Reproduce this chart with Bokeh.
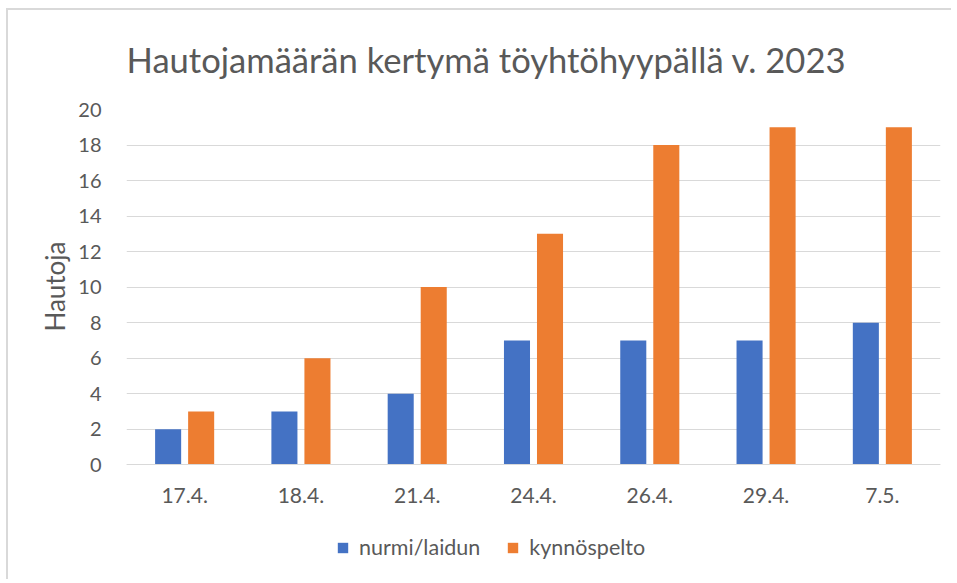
from bokeh.plotting import figure
from bokeh.models import FactorRange, Range1d, Legend, LegendItem, ColumnDataSource, Title
from bokeh.transform import dodge
from bokeh.embed import file_html
from bokeh.resources import INLINE

dates = ["17.4.", "18.4.", "21.4.", "24.4.", "26.4.", "29.4.", "7.5."]
nurmi = [2, 3, 4, 7, 7, 7, 8]
kynnospelto = [3, 6, 10, 13, 18, 19, 19]
y_ticks = [0, 2, 4, 6, 8, 10, 12, 14, 16, 18, 20]
series_names = ["nurmi/laidun", "kynnöspelto"]
title_text = "Hautojamäärän kertymä töyhtöhyypällä v. 2023"
y_label = "Hautoja"

FONT = "Lato"
TXT = "#595959"
BLUE = "#4472c4"
ORANGE = "#ed7d31"
GRID = "#d9d9d9"

src = ColumnDataSource(dict(d=dates, n=nurmi, k=kynnospelto))

# frame extends to the bottom of the figure so the legend can sit inside it;
# the category axis is pinned at y = 0
p = figure(x_range=FactorRange(*dates), y_range=Range1d(-6.573, 20),
           width=945, height=571, output_backend="svg", toolbar_location=None,
           min_border_left=118, min_border_right=13, min_border_top=98,
           min_border_bottom=0)
p.styles = {"margin-left": "6px", "margin-top": "8px",
            "border-top": "2px solid #d9d9d9", "border-left": "2px solid #d9d9d9"}

r1 = p.vbar(x=dodge("d", -0.142, range=p.x_range), top="n", width=0.224,
            source=src, fill_color=BLUE, line_color=None)
r2 = p.vbar(x=dodge("d", 0.142, range=p.x_range), top="k", width=0.224,
            source=src, fill_color=ORANGE, line_color=None)

p.title.text = title_text
p.title.text_font = FONT
p.title.text_font_size = "34.6px"
p.title.text_font_style = "normal"
p.title.text_color = TXT
p.title.align = "left"
p.title.vertical_align = "top"
p.title.offset = 0
p.title.standoff = 56

p.outline_line_color = None
p.xgrid.grid_line_color = None
p.ygrid.grid_line_color = GRID
p.ygrid.grid_line_width = 1
p.ygrid.ticker = y_ticks

p.yaxis.ticker = y_ticks
p.yaxis.axis_line_color = None
p.yaxis.major_tick_line_color = None
p.yaxis.minor_tick_line_color = None
p.yaxis.major_tick_out = 0
p.yaxis.major_label_standoff = 25
p.yaxis.major_label_text_font = FONT
p.yaxis.major_label_text_font_size = "20px"
p.yaxis.major_label_text_color = TXT

ytitle = Title(text=y_label, align="right", offset=132, standoff=10,
               text_font=FONT, text_font_size="26px", text_font_style="normal",
               text_color=TXT)
p.add_layout(ytitle, "left")

p.xaxis.fixed_location = 0
p.xaxis.axis_line_color = GRID
p.xaxis.major_tick_line_color = None
p.xaxis.minor_tick_line_color = None
p.xaxis.major_tick_out = 0
p.xaxis.major_label_standoff = 23
p.xaxis.major_label_text_font = FONT
p.xaxis.major_label_text_font_size = "21px"
p.xaxis.major_label_text_color = TXT

legend = Legend(items=[LegendItem(label=series_names[0], renderers=[r1]),
                       LegendItem(label=series_names[1], renderers=[r2])],
                orientation="horizontal", location=(210, 21),
                glyph_width=13, glyph_height=13, label_standoff=10, spacing=26,
                padding=0, margin=0, border_line_color=None,
                background_fill_alpha=0,
                label_text_font=FONT, label_text_font_size="21.5px",
                label_text_color=TXT)
p.add_layout(legend, "center")

open("out.html", "w").write(file_html(p, INLINE))
